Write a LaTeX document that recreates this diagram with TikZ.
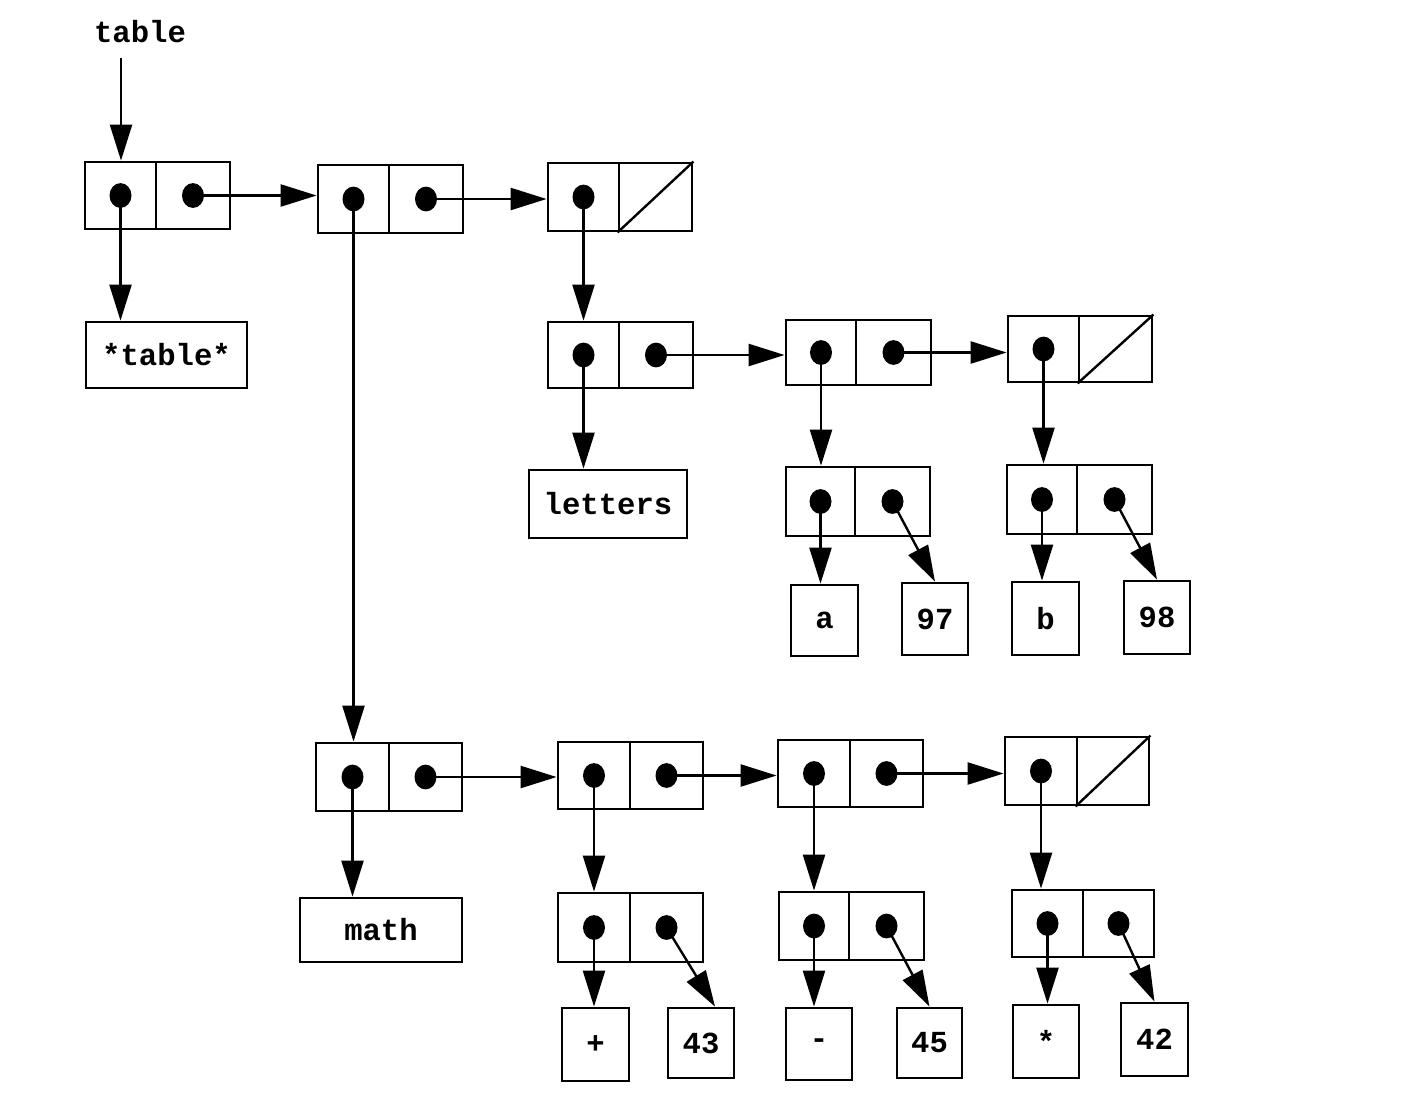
\documentclass[tikz,border=0pt]{standalone}
\usepackage{fontspec}
\setmonofont{Liberation Mono}
\usetikzlibrary{arrows.meta}
\tikzset{
  half/.style={draw, line width=1.4pt, rectangle, inner sep=0pt},
  atombox/.style={draw, line width=1.4pt, rectangle, inner sep=0pt, font=\ttfamily\bfseries\fontsize{15.3pt}{18pt}\selectfont},
  arr/.style={line width=1.2pt, -{Triangle[length=18pt,width=11pt]}},
  slashline/.style={line width=1.2pt},
}
\newcommand\conscell[6]{%
  \node[half, minimum width={(#3-#2)*0.5pt}, minimum height={(#6-#5)*0.5pt}] (#1l) at ({(#2+#3)/2},{(#5+#6)/2}) {};
  \node[half, minimum width={(#4-#3)*0.5pt}, minimum height={(#6-#5)*0.5pt}] (#1r) at ({(#3+#4)/2},{(#5+#6)/2}) {};
}
\newcommand\atomnode[6]{%
  \node[atombox, minimum width={(#4-#2)*0.5pt}, minimum height={(#5-#3)*0.5pt}] (#1) at ({(#2+#4)/2},{(#3+#5)/2}) {#6};
}
\begin{document}
\begin{tikzpicture}[x=0.5pt,y=-0.5pt]
\useasboundingbox (0,0) rectangle (1410,1110);
% cons cells
\conscell{c1}{85}{156}{230}{162}{229}
\conscell{c2}{318}{389}{463}{165}{233}
\conscell{c3}{548}{619}{692}{163}{231}
\conscell{c4}{548}{619}{693}{322}{388}
\conscell{c5}{786}{856}{931}{320}{385}
\conscell{c6}{1008}{1079}{1152}{316}{382}
\conscell{c7}{786}{855}{930}{467}{536}
\conscell{c8}{1007}{1077}{1152}{465}{534}
\conscell{c9}{316}{389}{462}{743}{811}
\conscell{c10}{558}{630}{703}{742}{809}
\conscell{c11}{778}{850}{923}{740}{807}
\conscell{c12}{1005}{1077}{1149}{737}{805}
\conscell{c13}{558}{630}{703}{893}{962}
\conscell{c14}{779}{849}{924}{892}{960}
\conscell{c15}{1012}{1083}{1154}{890}{957}
% atoms
\atomnode{startable}{86}{322}{247}{388}{*table*}
\atomnode{letters}{529}{470}{687}{538}{letters}
\atomnode{math}{300}{898}{462}{962}{math}
\atomnode{na}{791}{585}{858}{656}{a}
\atomnode{n97}{902}{583}{968}{655}{97}
\atomnode{nb}{1012}{582}{1079}{655}{b}
\atomnode{n98}{1124}{581}{1190}{654}{98}
\atomnode{nplus}{562}{1008}{629}{1081}{+}
\atomnode{n43}{668}{1008}{734}{1078}{43}
\atomnode{nminus}{786}{1008}{852}{1080}{-}
\atomnode{n45}{897}{1008}{962}{1078}{45}
\atomnode{nstar}{1013}{1005}{1079}{1078}{*}
\atomnode{n42}{1121}{1003}{1188}{1076}{42}
% label
\node[font=\ttfamily\bfseries\fontsize{15.3pt}{18pt}\selectfont, inner sep=0pt] (tlabel) at (140,32) {table};
\coordinate (tstart) at (121,58);
% nil slashes
\foreach \c in {c3,c6,c12}{
  \draw[slashline] (\c r.south west) -- (\c r.north east);
}
% dots
\foreach \c in {c1l,c1r,c2l,c2r,c3l,c4l,c4r,c5l,c5r,c6l,c7l,c7r,c8l,c8r,c9l,c9r,c10l,c10r,c11l,c11r,c12l,c13l,c13r,c14l,c14r,c15l,c15r}{
  \fill (\c.center) ellipse [x radius=5.5pt, y radius=6.2pt];
}
% arrows
\draw[arr] (tstart) -- (tstart |- c1l.north);
\draw[arr] (c1l.center) -- (c1l.center |- startable.north);
\draw[arr] (c1r.center) -- (c1r.center -| c2l.west);
\draw[arr] (c2l.center) -- (c2l.center |- c9l.north);
\draw[arr] (c2r.center) -- (c2r.center -| c3l.west);
\draw[arr] (c3l.center) -- (c3l.center |- c4l.north);
\draw[arr] (c4l.center) -- (c4l.center |- letters.north);
\draw[arr] (c4r.center) -- (c4r.center -| c5l.west);
\draw[arr] (c5l.center) -- (c5l.center |- c7l.north);
\draw[arr] (c5r.center) -- (c5r.center -| c6l.west);
\draw[arr] (c6l.center) -- (c6l.center |- c8l.north);
\draw[arr] (c7l.center) -- (c7l.center |- na.north);
\draw[arr] (c7r.center) -- (n97.north);
\draw[arr] (c8l.center) -- (c8l.center |- nb.north);
\draw[arr] (c8r.center) -- (n98.north);
\draw[arr] (c9l.center) -- (c9l.center |- math.north);
\draw[arr] (c9r.center) -- (c9r.center -| c10l.west);
\draw[arr] (c10l.center) -- (c10l.center |- c13l.north);
\draw[arr] (c10r.center) -- (c10r.center -| c11l.west);
\draw[arr] (c11l.center) -- (c11l.center |- c14l.north);
\draw[arr] (c11r.center) -- (c11r.center -| c12l.west);
\draw[arr] (c12l.center) -- (c12l.center |- c15l.north);
\draw[arr] (c13l.center) -- (c13l.center |- nplus.north);
\draw[arr] (c13r.center) -- ([xshift=7pt]n43.north);
\draw[arr] (c14l.center) -- (c14l.center |- nminus.north);
\draw[arr] (c14r.center) -- (n45.north);
\draw[arr] (c15l.center) -- (c15l.center |- nstar.north);
\draw[arr] (c15r.center) -- (n42.north);
\end{tikzpicture}
\end{document}
